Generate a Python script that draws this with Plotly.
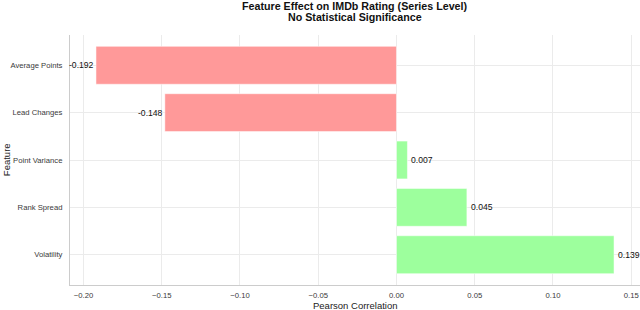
import plotly.graph_objects as go

features = ["Average Points", "Lead Changes", "Point Variance", "Rank Spread", "Volatility"]
correlations = [-0.192, -0.148, 0.007, 0.045, 0.139]
x_ticks = [-0.20, -0.15, -0.10, -0.05, 0.00, 0.05, 0.10, 0.15]

FONT = "Liberation Sans, Arial, sans-serif"
colors = ["#ff9999" if v < 0 else "#9dff9d" for v in correlations]
labels = [f"{v:.3f}" for v in correlations]

fig = go.Figure(go.Bar(
    x=correlations, y=features, orientation="h",
    marker=dict(color=colors, line=dict(color="rgba(255,255,255,0.5)", width=1)),
    width=0.8, hoverinfo="x+y",
))

annotations = []
for f, v, lab in zip(features, correlations, labels):
    annotations.append(dict(
        x=v, y=f, xref="x", yref="y", text=lab, showarrow=False,
        xanchor="right" if v < 0 else "left", yanchor="middle",
        xshift=0 if v < 0 else 2,
        font=dict(family=FONT, size=8.6, color="#111"),
    ))

# titles
annotations += [
    dict(text="<b>Feature Effect on IMDb Rating (Series Level)</b>", x=0.5, y=1.116,
         xref="paper", yref="paper", showarrow=False, xanchor="center", yanchor="middle",
         font=dict(family=FONT, size=10.7, color="#111")),
    dict(text="<b>No Statistical Significance</b>", x=0.5, y=1.072,
         xref="paper", yref="paper", showarrow=False, xanchor="center", yanchor="middle",
         font=dict(family=FONT, size=10.7, color="#111")),
    dict(text="Pearson Correlation", x=0.5, y=-0.08, xref="paper", yref="paper",
         showarrow=False, xanchor="center", yanchor="middle",
         font=dict(family=FONT, size=9.5, color="#222")),
    dict(text="Feature", x=-0.112, y=0.5, xref="paper", yref="paper", textangle=-90,
         showarrow=False, xanchor="center", yanchor="middle",
         font=dict(family=FONT, size=9.5, color="#222")),
]

fig.update_layout(
    width=640, height=310,
    margin=dict(l=70, r=0, t=35, b=25, autoexpand=False),
    paper_bgcolor="white", plot_bgcolor="white",
    font=dict(family=FONT, color="#262626"),
    showlegend=False,
    annotations=annotations,
)
fig.update_xaxes(
    range=[-0.2086, 0.1556], tickvals=x_ticks, tickformat=".2f",
    showgrid=True, gridcolor="#ebebeb", gridwidth=1,
    zeroline=False, showline=True, linecolor="#cccccc", linewidth=1,
    tickfont=dict(size=7.7, color="#3a3a3a"), ticks="", ticklen=0,
    ticklabelstandoff=3, automargin=False,
)
fig.update_yaxes(
    categoryorder="array", categoryarray=features, autorange=False, range=[4.64, -0.64],
    showgrid=True, gridcolor="#ebebeb", gridwidth=1,
    zeroline=False, showline=True, linecolor="#cccccc", linewidth=1,
    tickfont=dict(size=7.7, color="#3a3a3a"), ticks="", ticklen=0,
    ticklabelstandoff=5, automargin=False,
)

fig.write_html("out.html", config={"displayModeBar": False},
               post_script="document.body.style.margin='0';document.body.style.overflow='hidden';")
